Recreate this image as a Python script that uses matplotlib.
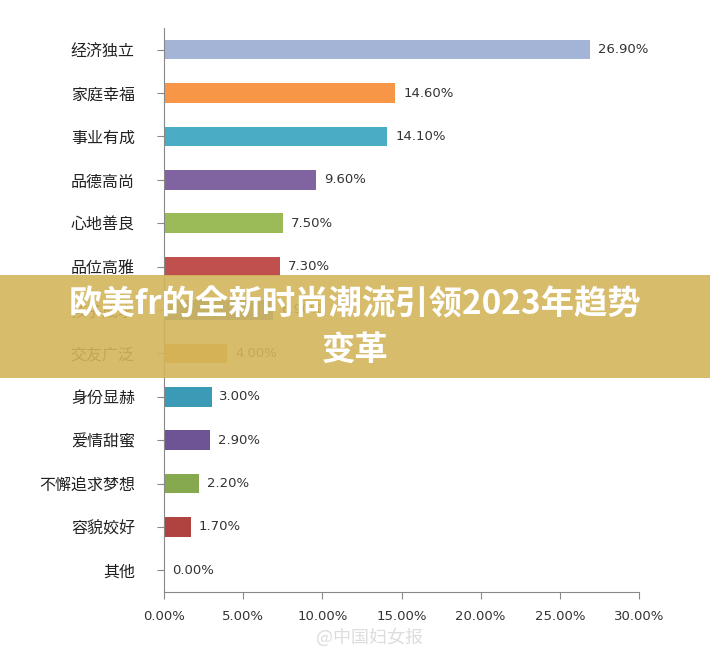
import matplotlib
matplotlib.use("Agg")
import matplotlib.pyplot as plt
from matplotlib.patches import Rectangle
from matplotlib import font_manager as fm

categories = ["经济独立","家庭幸福","事业有成","品德高尚","心地善良","品位高雅","孩子成才",
              "交友广泛","身份显赫","爱情甜蜜","不懈追求梦想","容貌姣好","其他"]
values = [26.9,14.6,14.1,9.6,7.5,7.3,6.9,4.0,3.0,2.9,2.2,1.7,0.0]
colors = ["#A3B4D6","#F79646","#4BACC6","#8064A2","#9BBB59","#C0504D","#4F81BD",
          "#F3A02E","#3B9AB5","#6E5494","#86A84E","#B0433F","#5B7DB8"]
xticks = [0,5,10,15,20,25,30]

files = sorted(f for f in fm.findSystemFonts() if "cjk" in f.lower())
def pick(word):
    for f in files:
        if word in f and ("SC" in f or "CJK-" in f or "CJKsc" in f):
            return f
    for f in files:
        if word in f:
            return f
    return files[0] if files else None
reg = pick("Regular")
bold = pick("Bold")
fp_reg = fm.FontProperties(fname=reg, size=11.5) if reg else fm.FontProperties(size=11.5)
fp_bold = fm.FontProperties(fname=bold, size=24) if bold else fm.FontProperties(size=24, weight="bold")
fp_wm = fm.FontProperties(fname=reg, size=13) if reg else fm.FontProperties(size=13)

fig = plt.figure(figsize=(7.10,6.55), dpi=100)
ax = fig.add_axes([164/710, 1-592/655, (639-164)/710, (592-28)/655])
y = list(range(len(categories)))
ax.barh(y, values, color=colors, height=0.45)
for yi, v in zip(y, values):
    ax.text(v+0.5, yi, f"{v:.2f}%", va="center", ha="left", fontsize=9.5, color="#333333")
ax.set_yticks(y)
ax.set_yticklabels(categories, fontproperties=fp_reg, color="#222222")
ax.set_ylim(len(categories)-0.5, -0.5)
ax.set_xlim(0,30)
ax.set_xticks(xticks)
ax.set_xticklabels([f"{t:.2f}%" for t in xticks], fontsize=9.5, color="#333333")
for s in ["top","right"]:
    ax.spines[s].set_visible(False)
ax.spines["left"].set_color("#888888")
ax.spines["bottom"].set_color("#888888")
ax.tick_params(axis="y", length=5, color="#888888", pad=16)
ax.tick_params(axis="x", length=5, color="#888888", pad=8)

fig.patches.append(Rectangle((0, 1-378/655), 1, 103/655, transform=fig.transFigure,
                             facecolor="#D2B55B", alpha=0.9, zorder=10))
fig.text(0.5, 1-305/655, "欧美fr的全新时尚潮流引领2023年趋势", ha="center", va="center",
         fontproperties=fp_bold, color="white", zorder=11)
fig.text(0.5, 1-350/655, "变革", ha="center", va="center",
         fontproperties=fp_bold, color="white", zorder=11)
fig.text(0.52, 1-637/655, "@中国妇女报", ha="center", va="center", fontproperties=fp_wm,
         color="#dddddd", zorder=11)
fig.savefig("out.png", dpi=100)
